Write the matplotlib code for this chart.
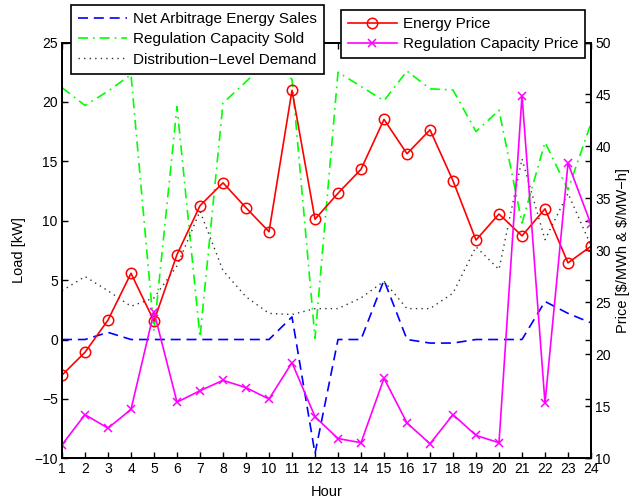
import numpy as np
import matplotlib
matplotlib.use('Agg')
import matplotlib.pyplot as plt

plt.rcParams['font.family'] = ['Liberation Sans', 'DejaVu Sans']
plt.rcParams['font.size'] = 10

# Datos
horas = np.arange(1, 25)
arbitraje_neto = [0, 0, 0.6, 0, 0, 0, 0, 0, 0, 0, 1.9, -9.6,
                  0, 0, 5.0, 0, -0.3, -0.3, 0, 0, 0, 3.2, 2.2, 1.4]
regulacion_vendida = [21.2, 19.7, 20.9, 22.3, 0.7, 19.6, 0.2, 19.9, 21.7, 23.6, 21.9, 0.1,
                      22.5, 21.3, 20.1, 22.6, 21.1, 21.0, 17.5, 19.3, 9.8, 16.6, 12.6, 18.2]
demanda = [4.1, 5.3, 4.1, 2.8, 3.5, 6.2, 10.8, 5.8, 3.6, 2.2, 2.1, 2.6,
           2.6, 3.5, 4.9, 2.6, 2.6, 3.9, 7.8, 5.9, 15.2, 8.4, 12.3, 7.9]
precio_energia = [18.0, 20.2, 23.3, 27.8, 23.2, 29.6, 34.3, 36.5, 34.1, 31.8, 45.4, 33.0,
                  35.5, 37.8, 42.6, 39.3, 41.6, 36.7, 31.0, 33.5, 31.4, 34.0, 28.8, 30.4]
precio_regulacion = [11.3, 14.2, 12.9, 14.7, 24.1, 15.4, 16.5, 17.5, 16.8, 15.7, 19.2, 14.0,
                     11.9, 11.5, 17.7, 13.4, 11.4, 14.2, 12.2, 11.5, 44.9, 15.3, 38.4, 32.5]

fig = plt.figure(figsize=(6.32, 4.99), dpi=100)
ax = fig.add_axes([62 / 632, 1 - 458.3 / 499, 529 / 632, 415.8 / 499])
ax2 = ax.twinx()

l1, = ax.plot(horas, arbitraje_neto, color='#0000ff', lw=1.2, ls=(0, (6, 3.5)),
              label='Net Arbitrage Energy Sales')
l2, = ax.plot(horas, regulacion_vendida, color='#00ff00', lw=1.2, ls=(0, (6, 3, 1, 3)),
              label='Regulation Capacity Sold')
l3, = ax.plot(horas, demanda, color='#333333', lw=1.0, ls=(0, (1, 3)),
              label='Distribution\u2212Level Demand')

l4, = ax2.plot(horas, precio_energia, color='#ff0000', lw=1.2, marker='o', ms=7.5,
               mfc='none', mew=1.1, label='Energy Price')
l5, = ax2.plot(horas, precio_regulacion, color='#ff00ff', lw=1.2, marker='x', ms=6,
               mew=1.1, label='Regulation Capacity Price')

ax.set_xlim(1, 24)
ax.set_ylim(-10, 25)
ax2.set_ylim(10, 50)
ax.set_xticks(horas)
ax.set_yticks(np.arange(-10, 26, 5))
ax2.set_yticks(np.arange(10, 51, 5))

ax.tick_params(direction='in', top=True, right=True, length=4, width=1, pad=3, labelsize=10)
ax2.tick_params(direction='in', length=4, width=1, pad=3, labelsize=10)
for a in (ax, ax2):
    for s in a.spines.values():
        s.set_linewidth(1.3)

ax.set_xlabel('Hour', labelpad=6, fontsize=10.5)
ax.set_ylabel('Load [kW]', labelpad=6, fontsize=10.5)
ax2.set_ylabel('Price [\\$/MWh & \\$/MW\u2212h]', labelpad=4, fontsize=10.5)

estilo_leyenda = dict(loc='upper left', borderaxespad=0, fancybox=False, edgecolor='k',
                      framealpha=1, handlelength=3.2, handletextpad=0.4, labelspacing=0.42,
                      borderpad=0.45, fontsize=11)
leg1 = fig.legend(handles=[l1, l2, l3], bbox_to_anchor=(71 / 632, 1 - 5 / 499), **estilo_leyenda)
leg1.get_frame().set_linewidth(1.2)
leg2 = fig.legend(handles=[l4, l5], bbox_to_anchor=(341 / 632, 1 - 10 / 499), **estilo_leyenda)
leg2.get_frame().set_linewidth(1.2)

fig.savefig('out.png', dpi=100)
